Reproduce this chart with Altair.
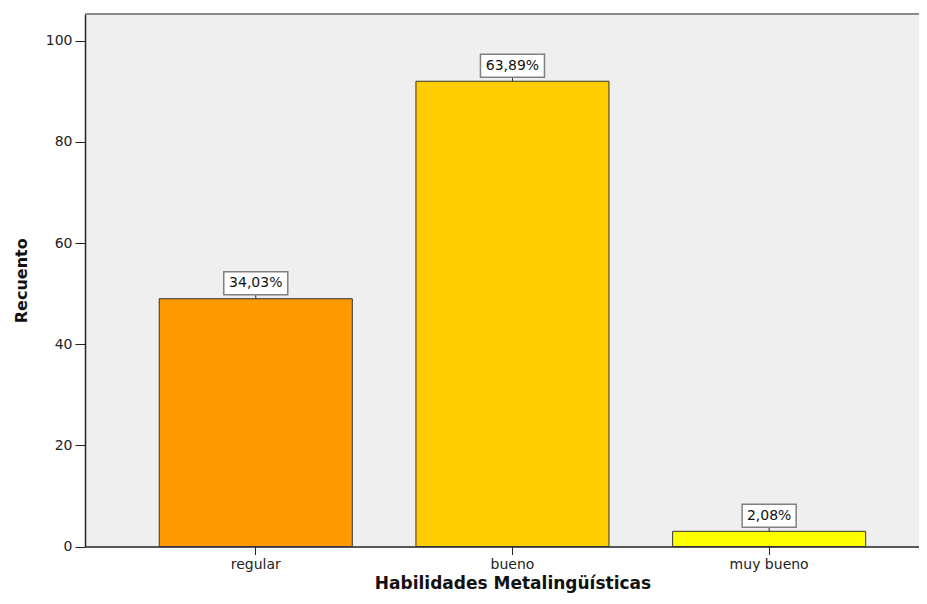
import altair as alt
import pandas as pd

categories = ["regular", "bueno", "muy bueno"]
counts = [49, 92, 3]
pct_labels = ["34,03%", "63,89%", "2,08%"]
colors = ["#FF9900", "#FFCC00", "#FFFF00"]
y_ticks = [0, 20, 40, 60, 80, 100]

df = pd.DataFrame({"cat": categories, "count": counts, "label": pct_labels})

W = 834
H = 532.5
FONT = "DejaVu Sans"
GAP = 4
BOX_H = 23

x_enc = alt.X(
    "cat:N",
    sort=categories,
    scale=alt.Scale(paddingInner=0.248, paddingOuter=0.2485, align=0.582),
    axis=alt.Axis(
        title="Habilidades Metalingüísticas",
        labelAngle=0,
        labelFont=FONT,
        labelFontSize=14,
        labelColor="#222222",
        labelPadding=3,
        tickSize=8,
        tickColor="#222222",
        domainColor="#222222",
        domainWidth=1.5,
        titleFont=FONT,
        titleFontSize=17,
        titleFontWeight="bold",
        titleColor="#111111",
        titlePadding=4,
        titleX=427.5,
    ),
)
y_enc = alt.Y(
    "count:Q",
    scale=alt.Scale(domain=[0, 105.3], nice=False),
    axis=alt.Axis(
        title="Recuento",
        values=y_ticks,
        grid=False,
        labelFont=FONT,
        labelFontSize=14,
        labelColor="#222222",
        labelPadding=3,
        tickSize=10,
        tickColor="#222222",
        domainColor="#222222",
        domainWidth=1.5,
        titleFont=FONT,
        titleFontSize=16,
        titleFontWeight="bold",
        titleColor="#111111",
        titlePadding=16,
    ),
)

base = alt.Chart(df)

bars = base.mark_bar(stroke="#333333", strokeWidth=1).encode(
    x=x_enc,
    y=y_enc,
    color=alt.Color("cat:N", sort=categories,
                    scale=alt.Scale(domain=categories, range=colors), legend=None),
)

connector = base.mark_rule(color="#333333", strokeWidth=1, yOffset=0, y2Offset=-GAP).encode(
    x=alt.X("cat:N", sort=categories),
    y="count:Q",
    y2="count:Q",
)

boxes = base.mark_bar(
    fill="white", stroke="#808080", strokeWidth=1.5,
    width={"expr": "10 * length(datum.label) + 4"},
    yOffset=-(GAP + BOX_H), y2Offset=-GAP,
).encode(
    x=alt.X("cat:N", sort=categories),
    y="count:Q",
    y2="count:Q",
)

texts = base.mark_text(
    font=FONT, fontSize=14, color="#111111", baseline="middle", align="center",
    dy=-(GAP + BOX_H / 2),
).encode(
    x=alt.X("cat:N", sort=categories),
    y="count:Q",
    text="label:N",
)

top_border = alt.Chart(df).mark_rule(color="#8a8a8a", strokeWidth=2).encode(
    x=alt.value(0), x2=alt.value(W + 10), y=alt.value(0)
)

chart = alt.layer(bars, connector, boxes, texts, top_border).properties(
    width=W,
    height=H,
    autosize=alt.AutoSizeParams(type="none"),
    padding={"left": 77, "top": 6, "right": 0, "bottom": 49},
).configure_view(stroke=None, fill="#EFEFEF")

chart.save("out.html", embed_options={"renderer": "svg", "actions": False})
